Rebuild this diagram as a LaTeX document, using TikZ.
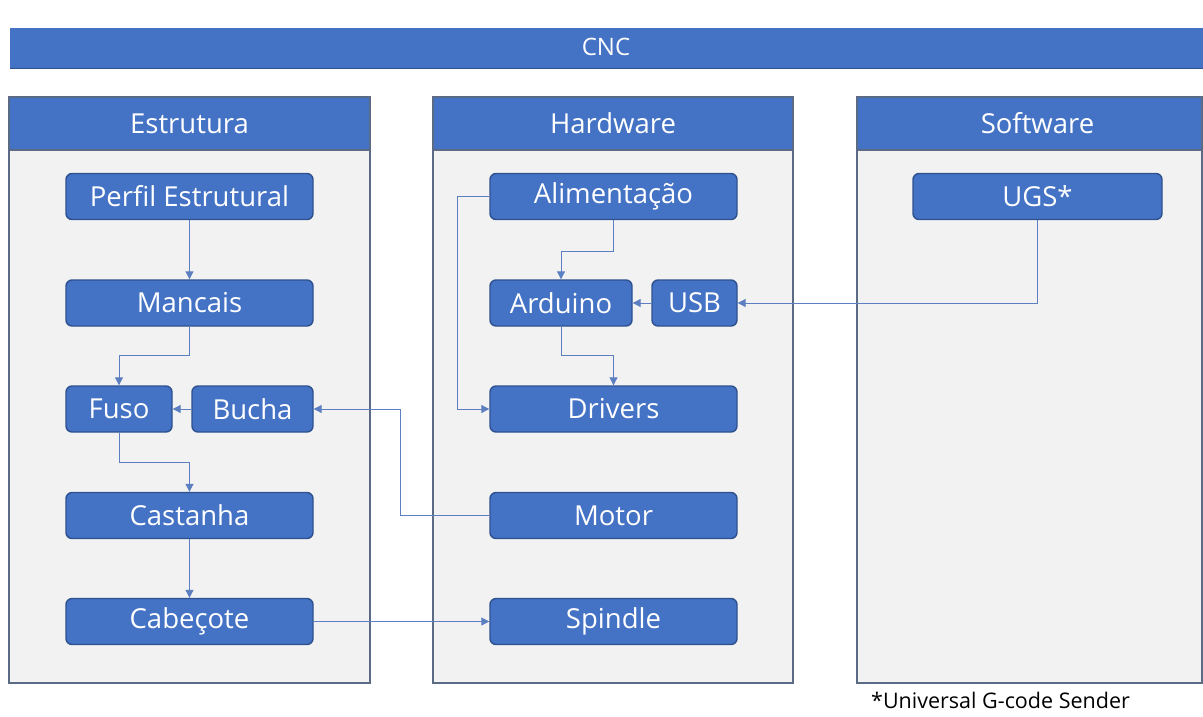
\documentclass[tikz,border=0pt]{standalone}
\usepackage{fontspec}
\setmainfont{Open Sans}
\usetikzlibrary{arrows.meta}
\definecolor{boxblue}{HTML}{4472C4}
\definecolor{boxedge}{HTML}{2F528F}
\definecolor{panelfill}{HTML}{F2F2F2}
\definecolor{paneledge}{HTML}{5B6B85}
\definecolor{linkblue}{HTML}{5B7FC0}
\tikzset{
  item/.style={draw=boxedge, line width=1.4pt, fill=boxblue, rounded corners=6pt,
    text=white, font=\fontsize{27.5}{30}\selectfont, inner sep=0pt, minimum height=46pt},
  panel/.style={draw=paneledge, line width=1.5pt, fill=panelfill},
  head/.style={draw=paneledge, line width=1.5pt, fill=boxblue},
  headtext/.style={text=white, font=\fontsize{27.5}{30}\selectfont},
  link/.style={draw=linkblue, line width=1pt, -{Triangle[length=8pt,width=8pt]}},
}
\begin{document}
\begin{tikzpicture}[x=1pt,y=-1pt]
\useasboundingbox (0,0) rectangle (1203,716);
% CNC bar
\fill[boxblue] (10,28) rectangle (1203,68);
\draw[boxedge, line width=1pt] (10,68) -- (1203,68);
\node[text=white, font=\fontsize{24}{28}\selectfont] (cnc) at (606,47) {CNC};
% panels
\draw[panel] (9,97) rectangle (370,683);
\draw[head] (9,97) rectangle (370,150);
\node[headtext] (estr) at (189.5,123.5) {Estrutura};
\draw[panel] (433,97) rectangle (793,683);
\draw[head] (433,97) rectangle (793,150);
\node[headtext] (hw) at (613,123.5) {Hardware};
\draw[panel] (857,97) rectangle (1202,683);
\draw[head] (857,97) rectangle (1202,150);
\node[headtext] (sw) at (1037.5,123.5) {Software};
% Estrutura items
\node[item, minimum width=247pt] (perfil) at (189.5,196.5) {Perfil Estrutural};
\node[item, minimum width=247pt] (mancais) at (189.5,303) {Mancais};
\node[item, minimum width=106pt] (fuso) at (119,409) {Fuso};
\node[item, minimum width=121pt] (bucha) at (252.5,409) {Bucha};
\node[item, minimum width=247pt] (castanha) at (189.5,515.5) {Castanha};
\node[item, minimum width=247pt] (cabecote) at (189.5,621.5) {Cabeçote};
% Hardware items
\node[item, minimum width=247pt] (alim) at (613.5,196.5) {Alimentação};
\node[item, minimum width=142pt] (arduino) at (561,303) {Arduino};
\node[item, minimum width=85pt] (usb) at (694.5,303) {USB};
\node[item, minimum width=247pt] (drivers) at (613.5,409) {Drivers};
\node[item, minimum width=247pt] (motor) at (613.5,515.5) {Motor};
\node[item, minimum width=247pt] (spindle) at (613.5,621.5) {Spindle};
% Software items
\node[item, minimum width=249pt] (ugs) at (1037.5,196.5) {UGS*};
% footnote
\node[anchor=west, font=\fontsize{21.5}{24}\selectfont, text=black, inner sep=0pt] (note) at (871,700) {*Universal G-code Sender};
% connectors
\draw[link] (perfil.south) -- (mancais.north);
\draw[link] (mancais.south) -- ++(0,29) -| (fuso.north);
\draw[link] (bucha.west) -- (fuso.east);
\draw[link] (fuso.south) -- ++(0,30) -| (castanha.north);
\draw[link] (castanha.south) -- (cabecote.north);
\draw[link] (cabecote.east) -- (spindle.west);
\draw[link] (motor.west) -- ++(-89,0) |- (bucha.east);
\draw[link] (alim.west) -- ++(-32,0) |- (drivers.west);
\draw[link] (alim.south) -- ++(0,31) -| (arduino.north);
\draw[link] (arduino.south) -- ++(0,29) -| (drivers.north);
\draw[link] (usb.west) -- (arduino.east);
\draw[link] (ugs.south) |- (usb.east);
\end{tikzpicture}
\end{document}
